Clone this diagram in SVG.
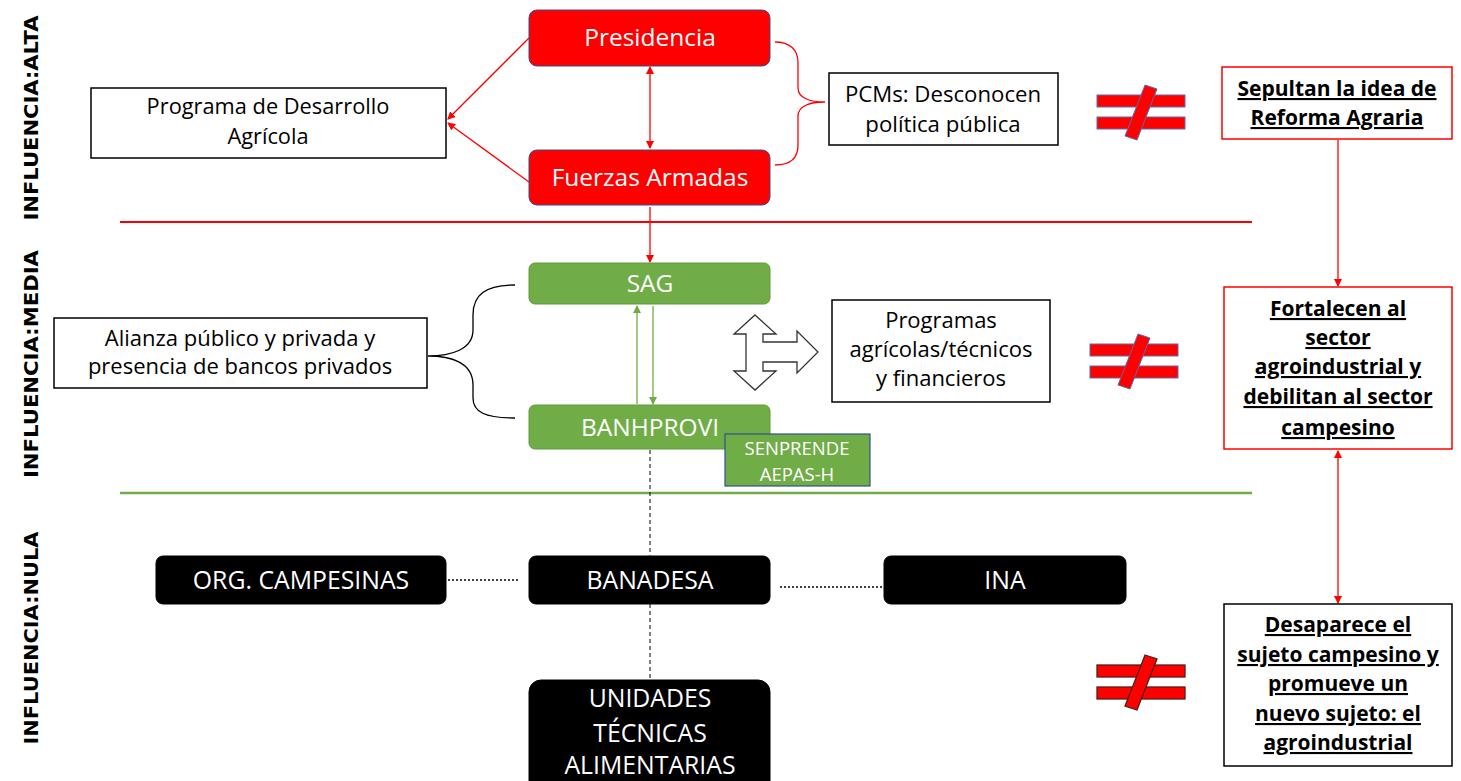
<svg xmlns="http://www.w3.org/2000/svg" width="1461" height="781" viewBox="0 0 1461 781">
<style>
text{font-family:"Open Sans","Noto Sans","Liberation Sans",sans-serif;text-anchor:middle}
.w{fill:#fff}
.k{fill:#000}
.red{fill:#ff0000;stroke:#2f528f;stroke-width:1}
.grn{fill:#70ad47;stroke:#5e9a3a;stroke-width:1}
.blk{fill:#000;stroke:#000}
.box{fill:#fff;stroke:#000;stroke-width:1.5}
.rbox{fill:#fff;stroke:#ff0000;stroke-width:1.5}
.bt{font-weight:bold;text-decoration:underline;fill:#000;font-size:21px}
.side{font-family:"DejaVu Sans",Verdana,sans-serif;font-weight:bold;font-size:20px;fill:#000}
.neq{fill:#ff0000;stroke:#5b6ca8;stroke-width:1}
.neq2{fill:#ff0000;stroke:#5a1a1a;stroke-width:1.3}
</style>
<defs>
<marker id="ar" markerWidth="8" markerHeight="8" refX="7" refY="4" orient="auto-start-reverse" markerUnits="userSpaceOnUse"><path d="M0,0 L8,4 L0,8 Z" fill="#ff0000"/></marker>
<marker id="ag" markerWidth="8" markerHeight="8" refX="7" refY="4" orient="auto-start-reverse" markerUnits="userSpaceOnUse"><path d="M0,0 L8,4 L0,8 Z" fill="#70ad47"/></marker>
<g id="neqsign">
<rect class="neq" x="0" y="15" width="88" height="12"/>
<rect class="neq" x="0" y="37" width="88" height="12"/>
<polygon class="neq" points="48,5 60,9 40,60 28,56"/>
</g>
<g id="neqsign2">
<rect class="neq2" x="0" y="15" width="88" height="12"/>
<rect class="neq2" x="0" y="37" width="88" height="12"/>
<polygon class="neq2" points="48,5 60,9 40,60 28,56"/>
</g>
</defs>

<!-- side labels -->
<g id="labels">
<text class="side" transform="translate(38,118) rotate(-90)" textLength="205" lengthAdjust="spacingAndGlyphs">INFLUENCIA:ALTA</text>
<text class="side" transform="translate(38,364) rotate(-90)" textLength="228" lengthAdjust="spacingAndGlyphs">INFLUENCIA:MEDIA</text>
<text class="side" transform="translate(38,638) rotate(-90)" textLength="213" lengthAdjust="spacingAndGlyphs">INFLUENCIA:NULA</text>
</g>

<!-- separators -->
<g id="separators">
<line x1="120" y1="222" x2="1252" y2="222" stroke="#ff0000" stroke-width="2"/>
<line x1="120" y1="493" x2="1252" y2="493" stroke="#70ad47" stroke-width="2.5"/>
</g>

<!-- connectors -->
<g id="connectors" fill="none">
<line x1="529" y1="38" x2="448" y2="119" stroke="#ff0000" stroke-width="1.3" marker-end="url(#ar)"/>
<line x1="529" y1="182" x2="448" y2="123" stroke="#ff0000" stroke-width="1.3" marker-end="url(#ar)"/>
<line x1="650" y1="67" x2="650" y2="148" stroke="#ff0000" stroke-width="1.3" marker-start="url(#ar)" marker-end="url(#ar)"/>
<line x1="650" y1="207" x2="650" y2="262" stroke="#ff0000" stroke-width="1.3" marker-end="url(#ar)"/>
<line x1="1338" y1="140" x2="1338" y2="286" stroke="#ff0000" stroke-width="1.3" marker-end="url(#ar)"/>
<line x1="1338" y1="451" x2="1338" y2="603" stroke="#ff0000" stroke-width="1.3" marker-start="url(#ar)" marker-end="url(#ar)"/>
<line x1="637" y1="404" x2="637" y2="306" stroke="#70ad47" stroke-width="1.3" marker-end="url(#ag)"/>
<line x1="653" y1="306" x2="653" y2="404" stroke="#70ad47" stroke-width="1.3" marker-end="url(#ag)"/>
<line x1="650" y1="450" x2="650" y2="556" stroke="#000" stroke-width="1" stroke-dasharray="4,3"/>
<line x1="650" y1="604" x2="650" y2="680" stroke="#000" stroke-width="1" stroke-dasharray="4,3"/>
<line x1="448" y1="580" x2="518" y2="580" stroke="#000" stroke-width="1.5" stroke-dasharray="2,2"/>
<line x1="780" y1="587" x2="884" y2="587" stroke="#000" stroke-width="1.5" stroke-dasharray="2,2"/>
<path d="M775,42 C790,42 798,50 798,62 L798,88 C798,98 810,102 825,102 C810,102 798,106 798,116 L798,145 C798,158 790,165 775,165" stroke="#ff0000" stroke-width="1.3"/>
<path d="M515,285 C485,285 473,295 473,315 L473,330 C473,350 450,356 428,356 C450,356 473,362 473,385 L473,398 C473,412 485,418 515,418" stroke="#000" stroke-width="1.3"/>
<polygon points="755,315 776,334 763,334 763,342 797,342 797,331 818,352 797,373 797,362 763,362 763,371 776,371 755,390 734,371 746,371 746,334 734,334" fill="#fff" stroke="#333" stroke-width="1.3" stroke-linejoin="miter"/>
</g>

<!-- alta -->
<g id="presidencia"><rect class="red" x="529" y="10" width="241" height="56" rx="8"/><text class="w" x="650" y="46" font-size="24.5">Presidencia</text></g>
<g id="fuerzas"><rect class="red" x="529" y="150" width="241" height="55" rx="8"/><text class="w" x="650" y="186" font-size="24.5">Fuerzas Armadas</text></g>
<g id="programa"><rect class="box" x="91" y="88" width="355" height="70"/><text class="k" font-size="21.8"><tspan x="268" y="114">Programa de Desarrollo</tspan><tspan x="268" y="144">Agrícola</tspan></text></g>
<g id="pcms"><rect class="box" x="829" y="73" width="229" height="72"/><text class="k" font-size="22.2"><tspan x="943" y="102">PCMs: Desconocen</tspan><tspan x="943" y="132">política pública</tspan></text></g>
<g id="sepultan"><rect class="rbox" x="1222" y="67" width="230" height="72"/><text class="bt"><tspan x="1337" y="96">Sepultan la idea de</tspan><tspan x="1337" y="125">Reforma Agraria</tspan></text></g>
<use href="#neqsign" x="1097" y="80"/>

<!-- media -->
<g id="sag"><rect class="grn" x="529" y="263" width="241" height="41" rx="6"/><text class="w" x="650" y="292" font-size="24.5">SAG</text></g>
<g id="banhprovi"><rect class="grn" x="529" y="405" width="241" height="44" rx="6"/><text class="w" x="650" y="436" font-size="24.5">BANHPROVI</text></g>
<g id="senprende"><rect x="725" y="434" width="145" height="52" fill="#70ad47" stroke="#2f528f" stroke-width="1.2"/><text class="w" font-size="18.5"><tspan x="797" y="455">SENPRENDE</tspan><tspan x="797" y="481">AEPAS-H</tspan></text></g>
<g id="alianza"><rect class="box" x="54" y="318" width="373" height="70"/><text class="k" font-size="22"><tspan x="240" y="346">Alianza público y privada y</tspan><tspan x="240" y="374">presencia de bancos privados</tspan></text></g>
<g id="programas"><rect class="box" x="832" y="300" width="218" height="102"/><text class="k" font-size="22"><tspan x="941" y="328">Programas</tspan><tspan x="941" y="357">agrícolas/técnicos</tspan><tspan x="941" y="386">y  financieros</tspan></text></g>
<g id="fortalecen"><rect class="rbox" x="1224" y="287" width="228" height="162"/><text class="bt"><tspan x="1338" y="316">Fortalecen al</tspan><tspan x="1338" y="345">sector</tspan><tspan x="1338" y="374">agroindustrial y</tspan><tspan x="1338" y="404">debilitan al sector</tspan><tspan x="1338" y="435">campesino</tspan></text></g>
<use href="#neqsign" x="1090" y="329"/>

<!-- nula -->
<g id="org"><rect class="blk" x="156" y="556" width="290" height="48" rx="7"/><text class="w" x="301" y="589" font-size="24.8">ORG. CAMPESINAS</text></g>
<g id="banadesa"><rect class="blk" x="529" y="556" width="241" height="48" rx="7"/><text class="w" x="650" y="589" font-size="24.8">BANADESA</text></g>
<g id="ina"><rect class="blk" x="884" y="556" width="242" height="48" rx="7"/><text class="w" x="1005" y="589" font-size="24.8">INA</text></g>
<g id="unidades"><rect class="blk" x="529" y="680" width="241" height="130" rx="12"/><text class="w" font-size="24.8"><tspan x="650" y="707">UNIDADES</tspan><tspan x="650" y="742">TÉCNICAS</tspan><tspan x="650" y="774">ALIMENTARIAS</tspan></text></g>
<g id="desaparece"><rect class="box" x="1224" y="604" width="228" height="162"/><text class="bt"><tspan x="1338" y="632">Desaparece el</tspan><tspan x="1338" y="662">sujeto campesino y</tspan><tspan x="1338" y="691">promueve un</tspan><tspan x="1338" y="721">nuevo sujeto: el</tspan><tspan x="1338" y="750">agroindustrial</tspan></text></g>
<use href="#neqsign2" x="1097" y="650"/>
</svg>
